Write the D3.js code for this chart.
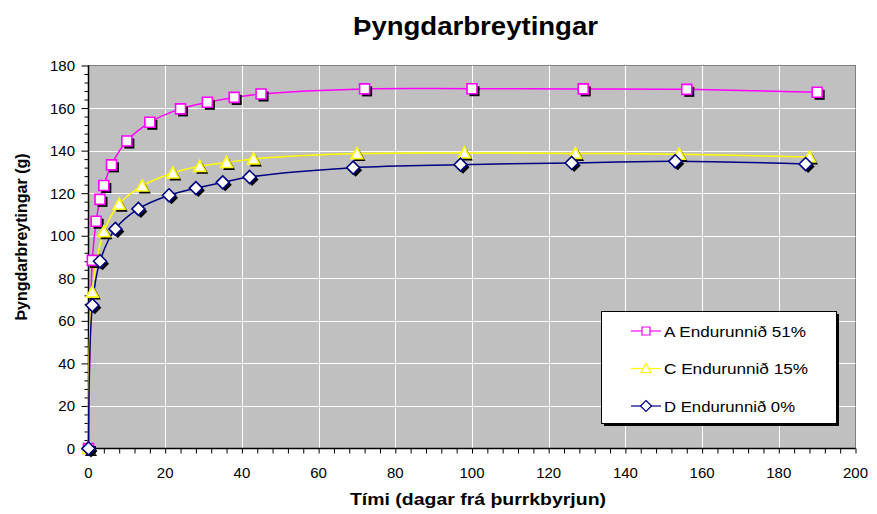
<!DOCTYPE html>
<html>
<head>
<meta charset="utf-8">
<script src="https://cdn.jsdelivr.net/npm/d3@7"></script>
<style>
  body { margin: 0; background: #fff; }
  svg { display: block; font-family: "Liberation Sans", Arial, sans-serif; }
</style>
</head>
<body>
<svg id="chart" width="877" height="514"></svg>
<script>
// Weight change over drying time, three samples
const daysA = [0, 1, 2, 3, 4, 6, 10, 16, 24, 31, 38, 45, 72, 100, 129, 156, 190];
const valuesA = [0, 88.4, 106.8, 117.1, 123.6, 133.3, 144.5, 153.3, 159.6, 162.7, 165.0, 166.6, 169.0, 169.1, 169.0, 168.8, 167.4];

const daysC = [0, 1, 4, 8, 14, 22, 29, 36, 43, 70, 98, 127, 154, 188];
const valuesC = [0, 73.5, 101.9, 114.8, 123.4, 129.5, 132.6, 134.4, 136.1, 138.6, 138.9, 138.7, 138.3, 137.0];

const daysD = [0, 1, 3, 7, 13, 21, 28, 35, 42, 69, 97, 126, 153, 187];
const valuesD = [0, 67.3, 88.0, 103.2, 112.6, 119.0, 122.4, 125.1, 127.6, 132.0, 133.4, 134.2, 135.0, 133.7];

const seriesNames = ["A Endurunnið 51%", "C Endurunnið 15%", "D Endurunnið 0%"];
const seriesColors = ["#FF00FF", "#FFFF00", "#000080"];
const seriesShapes = ["square", "triangle", "diamond"];

const xTicks = [0, 20, 40, 60, 80, 100, 120, 140, 160, 180, 200];
const yTicks = [0, 20, 40, 60, 80, 100, 120, 140, 160, 180];

const titleText = "Þyngdarbreytingar";
const xLabel = "Tími (dagar frá þurrkbyrjun)";
const yLabel = "Þyngdarbreytingar (g)";

const series = [
  { days: daysA, values: valuesA },
  { days: daysC, values: valuesC },
  { days: daysD, values: valuesD }
].map((s, i) => ({
  name: seriesNames[i], color: seriesColors[i], shape: seriesShapes[i],
  points: s.days.map((d, j) => ({ x: d, y: s.values[j] }))
}));

const svg = d3.select("#chart");
const plot = { left: 88.5, right: 855.5, top: 65.5, bottom: 448.5 };

const x = d3.scaleLinear().domain([0, 200]).range([plot.left, plot.right]);
const y = d3.scaleLinear().domain([0, 180]).range([plot.bottom, plot.top]);

// Plot background
svg.append("rect")
  .attr("x", plot.left).attr("y", plot.top)
  .attr("width", plot.right - plot.left).attr("height", plot.bottom - plot.top)
  .attr("fill", "#C0C0C0").attr("stroke", "#808080").attr("stroke-width", 1);

// Gridlines
svg.append("g").selectAll("line").data(yTicks.filter(d => d > 0 && d < 180)).join("line")
  .attr("x1", plot.left).attr("x2", plot.right)
  .attr("y1", d => Math.round(y(d)) + 0.5).attr("y2", d => Math.round(y(d)) + 0.5)
  .attr("stroke", "#fff").attr("stroke-width", 1);
svg.append("g").selectAll("line").data(xTicks.filter(d => d > 0 && d < 200)).join("line")
  .attr("y1", plot.top).attr("y2", plot.bottom)
  .attr("x1", d => Math.round(x(d)) + 0.5).attr("x2", d => Math.round(x(d)) + 0.5)
  .attr("stroke", "#fff").attr("stroke-width", 1);

// Axes with minor ticks every 4 units
const xAxis = svg.append("g").attr("transform", `translate(0,${plot.bottom})`);
xAxis.call(d3.axisBottom(x).tickValues(d3.range(0, 201, 4)).tickSize(5).tickFormat(""));
xAxis.select(".domain").remove();
xAxis.selectAll("line").attr("stroke", "#000");
xAxis.append("line").attr("x1", plot.left).attr("x2", plot.right)
  .attr("stroke", "#000").attr("stroke-width", 1.5);

const yAxis = svg.append("g").attr("transform", `translate(${plot.left},0)`);
yAxis.call(d3.axisLeft(y).tickValues(d3.range(0, 181, 4)).tickSize(4).tickFormat(""));
yAxis.select(".domain").remove();
yAxis.selectAll(".tick line")
  .attr("x2", d => (d % 20 === 0 ? -7 : -4))
  .attr("stroke", "#000");
yAxis.append("line").attr("y1", plot.top).attr("y2", plot.bottom)
  .attr("stroke", "#000").attr("stroke-width", 1.5);

// Tick labels
svg.append("g").selectAll("text").data(xTicks).join("text")
  .attr("x", d => x(d)).attr("y", 478)
  .attr("text-anchor", "middle").attr("font-size", 15).attr("fill", "#000")
  .text(d => d);
svg.append("g").selectAll("text").data(yTicks).join("text")
  .attr("x", 75).attr("y", d => y(d) + 5.5)
  .attr("text-anchor", "end").attr("font-size", 15).attr("fill", "#000")
  .text(d => d);

// Titles
svg.append("text").attr("x", 353).attr("y", 35)
  .attr("font-size", 25).attr("font-weight", "bold")
  .attr("textLength", 245).attr("lengthAdjust", "spacingAndGlyphs")
  .text(titleText);
svg.append("text").attr("x", 350).attr("y", 505)
  .attr("font-size", 16).attr("font-weight", "bold")
  .attr("textLength", 256).attr("lengthAdjust", "spacingAndGlyphs")
  .text(xLabel);
svg.append("text").attr("transform", "translate(27,237) rotate(-90)")
  .attr("text-anchor", "middle").attr("font-size", 16).attr("font-weight", "bold")
  .text(yLabel);

// Marker shapes
function markerPath(shape, s) {
  const h = s / 2;
  if (shape === "square") return `M${-h},${-h}H${h}V${h}H${-h}Z`;
  if (shape === "triangle") return `M0,${-h - 1}L${h + 1},${h}H${-h - 1}Z`;
  return `M0,${-h - 1.5}L${h + 1.5},0L0,${h + 1.5}L${-h - 1.5},0Z`;
}

const line = d3.line().x(d => x(d.x)).y(d => y(d.y)).curve(d3.curveCatmullRom.alpha(0.5));

// Lines first, then markers on top
series.forEach(s => {
  svg.append("path").datum(s.points)
    .attr("d", line).attr("fill", "none")
    .attr("stroke", s.color).attr("stroke-width", 1.5);
});

series.forEach(s => {
  const g = svg.append("g");
  g.selectAll("path.shadow").data(s.points).join("path").attr("class", "shadow")
    .attr("transform", d => `translate(${x(d.x) + 2.5},${y(d.y) + 2.5})`)
    .attr("d", markerPath(s.shape, 10)).attr("fill", "#000");
  g.selectAll("path.mark").data(s.points).join("path").attr("class", "mark")
    .attr("transform", d => `translate(${x(d.x)},${y(d.y)})`)
    .attr("d", markerPath(s.shape, 10))
    .attr("fill", "#fff").attr("stroke", s.color).attr("stroke-width", 1.6);
});

// Legend
const legendLengths = [142, 144, 131];
const lg = svg.append("g").attr("transform", "translate(601,311)");
lg.append("rect").attr("x", 3).attr("y", 3).attr("width", 235).attr("height", 112).attr("fill", "#000");
lg.append("rect").attr("x", 0.5).attr("y", 0.5).attr("width", 235).attr("height", 112)
  .attr("fill", "#fff").attr("stroke", "#000").attr("stroke-width", 1);
series.forEach((s, i) => {
  const ry = 20 + i * 37.5;
  lg.append("line").attr("x1", 30).attr("x2", 60).attr("y1", ry).attr("y2", ry)
    .attr("stroke", s.color).attr("stroke-width", 1.2);
  lg.append("path").attr("transform", `translate(45,${ry})`)
    .attr("d", markerPath(s.shape, 8)).attr("fill", "#fff")
    .attr("stroke", s.color).attr("stroke-width", 1.2);
  lg.append("text").attr("x", 63).attr("y", ry + 5.5)
    .attr("font-size", 15.5).attr("fill", "#000")
    .attr("textLength", legendLengths[i]).attr("lengthAdjust", "spacingAndGlyphs")
    .text(s.name);
});
</script>
</body>
</html>
